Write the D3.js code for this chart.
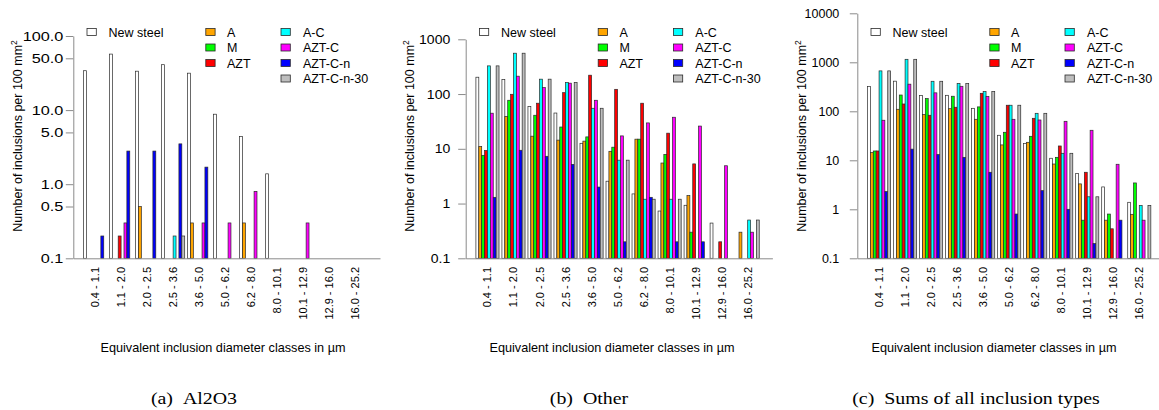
<!DOCTYPE html>
<html>
<head>
<meta charset="utf-8">
<script src="https://cdn.jsdelivr.net/npm/d3@7"></script>
<style>
  html, body { margin: 0; padding: 0; background: #fff; }
  svg { display: block; }
  text { font-family: "Liberation Sans", Arial, Helvetica, sans-serif; fill: #000; }
  .cap { font-family: "Liberation Serif", "Times New Roman", serif; }
</style>
</head>
<body>
<svg id="chart" width="1159" height="410"></svg>
<script>
// ---------------- data ----------------
const categories = ["0.4 - 1.1","1.1 - 2.0","2.0 - 2.5","2.5 - 3.6","3.6 - 5.0","5.0 - 6.2",
                    "6.2 - 8.0","8.0 - 10.1","10.1 - 12.9","12.9 - 16.0","16.0 - 25.2"];
const seriesNames = ["New steel","A","M","AZT","A-C","AZT-C","AZT-C-n","AZT-C-n-30"];

// (a) Al2O3 — one row per series, one value per category (0 = no bar)
const al2o3Values = [
  [34, 57, 33.5, 41, 31.5, 8.8, 4.4, 1.38, 0, 0, 0],
  [0, 0, 0.5, 0, 0.3, 0, 0.3, 0, 0, 0, 0],
  [0, 0, 0, 0, 0, 0, 0, 0, 0, 0, 0],
  [0, 0.2, 0, 0, 0, 0, 0, 0, 0, 0, 0],
  [0, 0, 0, 0.2, 0, 0, 0, 0, 0, 0, 0],
  [0, 0.3, 0, 0, 0.3, 0.3, 0.8, 0, 0.3, 0, 0],
  [0.2, 2.8, 2.8, 3.5, 1.7, 0, 0, 0, 0, 0, 0],
  [0, 0, 0, 0.2, 0, 0, 0, 0, 0, 0, 0]
];
// (b) Other
const otherValues = [
  [203, 184, 59, 45, 12.6, 2.56, 1.5, 0.73, 0.93, 0.44, 0],
  [11, 39, 17, 14.4, 13.8, 9, 15, 5.5, 1.4, 0, 0.3],
  [7.6, 77, 41, 25, 16.5, 10.7, 15, 7.9, 0.3, 0, 0],
  [9.3, 99, 68, 106, 221, 122, 68, 19.3, 5.3, 0.2, 0],
  [327, 557, 187, 162, 55, 6.2, 1.2, 1.2, 0, 0, 0.5],
  [44.7, 212, 131, 158, 77, 17.2, 29.7, 37.7, 26, 4.9, 0.3],
  [1.3, 9.4, 7.3, 5.2, 2.0, 0.2, 1.3, 0.2, 0.2, 0, 0],
  [327, 557, 187, 162, 55, 6.2, 1.2, 1.2, 0, 0, 0.5]
];
// (c) Sums of all inclusion types
const sumValues = [
  [322, 412, 210, 212, 115, 32.4, 21.9, 11, 5.4, 2.86, 1.39],
  [14.4, 110, 86, 113, 68.7, 20.6, 23.3, 8.4, 3.3, 0.6, 0.79],
  [15.5, 215, 182, 203, 123, 37.3, 30.9, 11.5, 0.6, 0.8, 3.45],
  [15.5, 141, 83, 121, 233, 133, 72, 19.6, 5.7, 0.4, 0],
  [668, 1151, 410, 370, 252, 133, 91, 13.9, 1.8, 0, 1.2],
  [65.7, 358, 238, 324, 202, 68.7, 66.5, 62.5, 41, 8.3, 0.6],
  [2.3, 16.9, 13.1, 11.5, 5.7, 0.8, 2.4, 1.0, 0.2, 0.6, 0],
  [668, 1151, 410, 370, 252, 133, 91, 13.9, 1.8, 0, 1.2]
];

const al2o3Ticks = [100, 50, 10, 5, 1, 0.5, 0.1];
const otherTicks = [1000, 100, 10, 1, 0.1];
const sumTicks = [10000, 1000, 100, 10, 1, 0.1];
const captions = ["(a)\u2002Al2O3", "(b)\u2002Other", "(c)\u2002Sums of all inclusion types"];
const yTitle = "Number of inclusions per 100 mm";
const xTitle = "Equivalent inclusion diameter classes in \u00b5m";

// ---------------- styles ----------------
const seriesColors = ["#ffffff","#ffa500","#00ff00","#ff0000","#00ffff","#ff00ff","#0000ff","#bebebe"];
const color = d3.scaleOrdinal(seriesNames, seriesColors);

const svg = d3.select("#chart");

const intFmt = d => d < 1 ? String(d) : d3.format("d")(d);
const panels = [
  {values: al2o3Values, ticks: al2o3Ticks, fmt: d3.format(".1f"), off: 0,     top: 36,   pad: 2.5,  stretch: 1.3,  xtc: 223, capc: 194, cap: captions[0]},
  {values: otherValues, ticks: otherTicks, fmt: intFmt,            off: 392.4, top: 39.3, pad: 8.0,  stretch: 1.12, xtc: 612, capc: 589, cap: captions[1]},
  {values: sumValues,   ticks: sumTicks,   fmt: intFmt,            off: 784,   top: 13.3, pad: 10.5, stretch: 1.0,  xtc: 994, capc: 976, cap: captions[2]}
];

const yBottom = 258.3;
const axisGray = "#8a8a8a";

function stretchText(sel, factor) {
  sel.each(function() {
    const w = this.getComputedTextLength();
    if (factor !== 1 && w > 0) {
      d3.select(this).attr("textLength", w * factor).attr("lengthAdjust", "spacingAndGlyphs");
    }
  });
}

panels.forEach(p => {
  const ax = p.off + 73.3;
  const g = svg.append("g");
  const xs = d3.scaleLinear().domain([-2.53, 103.55]).range([ax, ax + 306.7]);
  const ys = d3.scaleLog().domain([0.1, p.ticks[0]]).range([yBottom, p.top]);
  const bw = xs(2) - xs(1);

  // bars
  p.values.forEach((row, j) => {
    row.forEach((v, gi) => {
      if (!(v > 0)) return;
      const u = 1 + gi * 9 + j;
      g.append("rect")
        .attr("x", xs(u)).attr("width", bw)
        .attr("y", ys(v)).attr("height", yBottom - ys(v))
        .attr("fill", color(seriesNames[j]))
        .attr("stroke", "#2a2a2a").attr("stroke-width", 0.7);
    });
  });

  // y axis
  const yAxis = g.append("g").attr("transform", `translate(${ax},0)`)
    .call(d3.axisLeft(ys).tickValues(p.ticks).tickFormat(p.fmt).tickSize(7.5).tickSizeOuter(0).tickPadding(p.pad));
  yAxis.selectAll("path,line").attr("stroke", axisGray).attr("stroke-width", 1);
  const yl = yAxis.selectAll("text").style("font-size", "12.5px").attr("fill", "#000")
    .style("font-family", '"Liberation Sans", Arial, sans-serif');
  stretchText(yl, p.stretch);

  // x axis line (no ticks)
  const xAxis = g.append("g").attr("transform", `translate(0,${yBottom})`)
    .call(d3.axisBottom(xs).tickValues([]).tickSizeOuter(0));
  xAxis.selectAll("path").attr("stroke", axisGray).attr("stroke-width", 1);

  // category labels (vertical)
  categories.forEach((c, gi) => {
    const cx = xs(5 + gi * 9);
    g.append("text")
      .attr("transform", `translate(${cx + 4},${267}) rotate(-90)`)
      .attr("text-anchor", "end")
      .style("font-size", "11px")
      .text(c);
  });

  // y title
  const yt = g.append("text")
    .attr("transform", `translate(${p.off + 22},${136}) rotate(-90)`)
    .attr("text-anchor", "middle")
    .style("font-size", "12.5px");
  yt.append("tspan").text(yTitle);
  yt.append("tspan").attr("dy", -5).style("font-size", "8.5px").text("2");

  // x title
  g.append("text")
    .attr("x", p.xtc).attr("y", 352)
    .attr("text-anchor", "middle")
    .attr("textLength", 245).attr("lengthAdjust", "spacingAndGlyphs")
    .style("font-size", "13px")
    .text(xTitle);

  // caption
  const cp = g.append("text").attr("class", "cap")
    .attr("x", p.capc).attr("y", 404)
    .attr("text-anchor", "middle")
    .style("font-size", "17px")
    .text(p.cap);
  stretchText(cp, 1.17);

  // legend
  const colBox = [13.7, 132.5, 207.7];
  const colTxt = [35.3, 153.7, 229.6];
  const rowsY = [32, 47.5, 63, 78.5];
  const layout = [[0,0],[1,0],[1,1],[1,2],[2,0],[2,1],[2,2],[2,3]];
  seriesNames.forEach((name, i) => {
    const [col, row] = layout[i];
    const yy = rowsY[row];
    g.append("rect")
      .attr("x", ax + colBox[col]).attr("y", yy - 3.5)
      .attr("width", 9.3).attr("height", 7)
      .attr("fill", color(name)).attr("stroke", "#2a2a2a").attr("stroke-width", 0.8);
    g.append("text")
      .attr("x", ax + colTxt[col]).attr("y", yy + 4.6)
      .style("font-size", "12.5px")
      .text(name);
  });
});
</script>
</body>
</html>
